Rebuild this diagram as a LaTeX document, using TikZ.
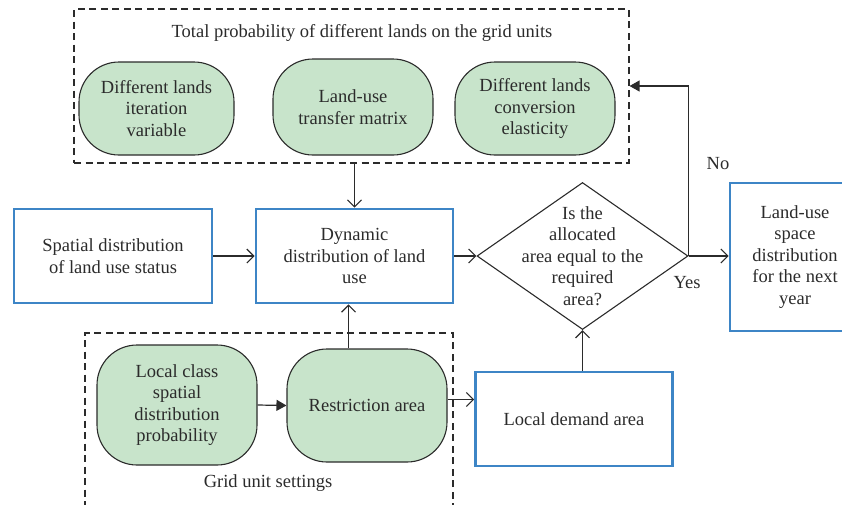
\documentclass[tikz,border=0pt]{standalone}
\usepackage{fontspec}
\setmainfont{Liberation Serif}
\usepackage{tikz}
\usetikzlibrary{arrows.meta,positioning,shapes.geometric,calc}
\definecolor{boxblue}{HTML}{3D85C6}
\definecolor{landgreen}{HTML}{C8E4CB}
\definecolor{inkgray}{HTML}{2B2B2B}

\begin{document}
\begin{tikzpicture}[
  x=1pt, y=-1pt,
  every node/.style={font=\fontsize{18.5}{21.5}\selectfont, color=inkgray, align=center},
  bluebox/.style={draw=boxblue, line width=2.6pt, minimum width=197pt, minimum height=94pt, inner sep=2pt},
  landbox/.style={draw=inkgray, fill=landgreen, line width=1.1pt, rounded corners=40pt, minimum width=158pt, minimum height=94pt, inner sep=2pt},
  groupbox/.style={draw=inkgray, dashed, dash pattern=on 7pt off 4.5pt, line width=1.1pt},
  decision/.style={draw=inkgray, diamond, line width=1.1pt, minimum width=211pt, minimum height=147pt, inner sep=0pt},
  arr/.style={draw=inkgray, line width=1.2pt, -{Straight Barb[length=7pt, width=14pt, line width=1.2pt]}},
  fillarr/.style={draw=inkgray, line width=1.2pt, -{Triangle[length=10pt, width=11pt]}},
]
\useasboundingbox (0,0) rectangle (842,504);
\clip (0,0) rectangle (842,504);

% Top group: total probability
\node[groupbox, minimum width=555pt, minimum height=154pt] (topgrp) at (351.5,86) {};
\node (toptitle) at (362,33) {Total probability of different lands on the grid units};
\node[landbox, minimum width=155pt, minimum height=93pt] (iter) at (156.5,108.5) {Different lands\\iteration\\variable};
\node[landbox, minimum width=160pt, minimum height=96pt] (matrix) at (353,107) {Land-use\\transfer matrix};
\node[landbox, minimum width=160pt, minimum height=93pt] (elast) at (535,108.5) {Different lands\\conversion\\elasticity};

% Middle row
\node[bluebox, minimum width=198pt] (status) at (113,256) {Spatial distribution\\of land use status};
\node[bluebox] (dyn) at (354.5,256) {Dynamic\\distribution of land\\use};
\node[decision] (check) at (582.5,256) {};
\node (checktext) at (check) {Is the\\allocated\\area equal to the\\required\\area?};
\node[bluebox, minimum width=130pt, minimum height=148pt] (nextyear) at (795,257) {Land-use\\space\\distribution\\for the next\\year};

% Bottom group: grid unit settings
\node[groupbox, minimum width=368pt, minimum height=200pt] (botgrp) at (269,433) {};
\node[landbox, minimum width=160pt, minimum height=120pt] (localprob) at (177,405) {Local class\\spatial\\distribution\\probability};
\node[landbox, minimum width=160pt, minimum height=113pt] (restrict) at (367,405.5) {Restriction area};
\node (bottitle) at (268,483) {Grid unit settings};
\node[bluebox] (demand) at (574,419) {Local demand area};

% Connectors
\draw[arr] (topgrp.south -| dyn.north) -- (dyn.north);
\draw[arr] (status.east) -- (dyn.west);
\draw[arr] (dyn.east) -- (check.west);
\draw[arr] (check.east) -- (check.east -| nextyear.west);
\draw[fillarr] (check.east) |- (topgrp.east);
\draw[fillarr] (localprob.east) -- (restrict.west);
\draw[arr] ([xshift=-6pt]restrict.north -| dyn.south) -- ([xshift=-6pt]dyn.south);
\draw[arr] ([yshift=6pt]restrict.east) -- ([yshift=6pt]restrict.east -| demand.west);
\draw[arr] (demand.north -| check.south) -- (check.south);

% Branch labels
\node (yes) at (687,283) {Yes};
\node (no) at (718,164) {No};

\end{tikzpicture}
\end{document}
